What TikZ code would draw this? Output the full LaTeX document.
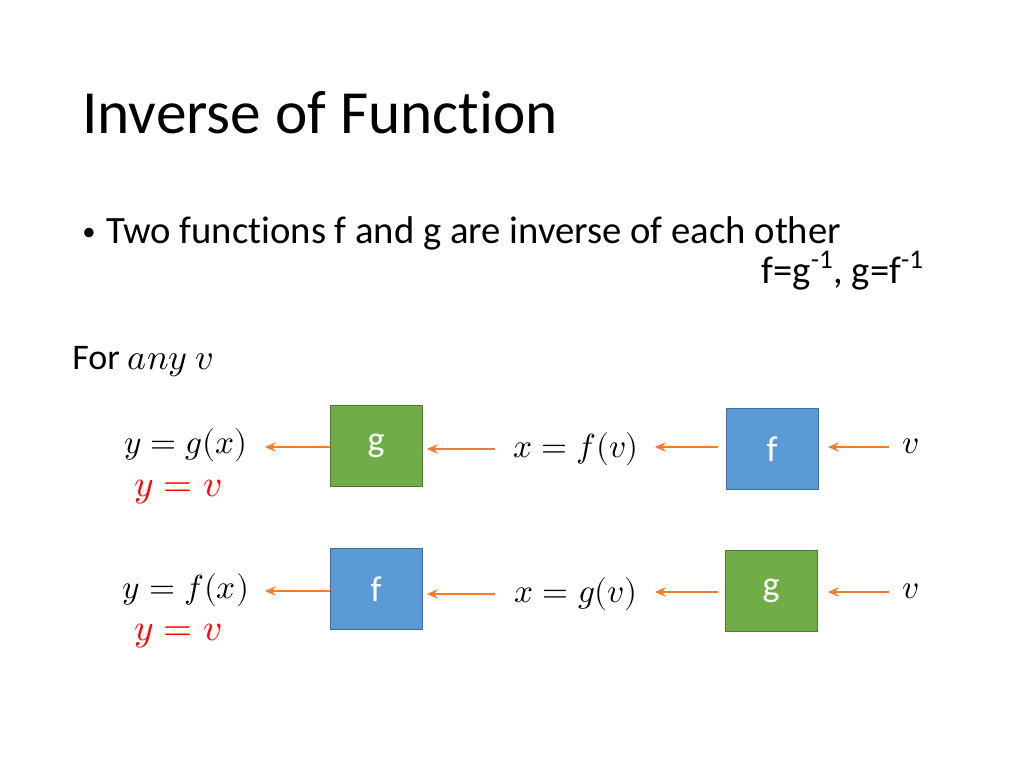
\documentclass[tikz,border=0pt]{standalone}
\usepackage{fontspec}
\setmainfont[Ligatures={NoCommon}]{Carlito}
\usepackage{unicode-math}
\setmathfont{Latin Modern Math}
\usetikzlibrary{arrows.meta}
\definecolor{gbox}{HTML}{70AD47}
\definecolor{bbox}{HTML}{5B9BD5}
\definecolor{orng}{HTML}{ED7D31}
\tikzset{
  fbox/.style={draw=#1!70!black, fill=#1, minimum width=69pt, minimum height=61pt, text=white, font=\fontsize{27}{30}\selectfont, inner sep=0pt},
  arr/.style={draw=orng, line width=2pt, -{Stealth[length=8pt,width=7pt]}},
  mt/.style={font=\fontsize{25}{30}\selectfont, inner sep=0pt},
}
\begin{document}
\begin{tikzpicture}[x=0.75pt,y=-0.75pt]
\useasboundingbox (0,0) rectangle (1024,768);
\node[anchor=base west, inner sep=0pt, font=\fontsize{46}{50}\selectfont] (title) at (82,133) {Inverse of Function};
\node[anchor=base west, inner sep=0pt, font=\fontsize{29}{34}\selectfont] (bul) at (82,243) {{\fontsize{20}{20}\selectfont\raisebox{2pt}{•}}\hspace{8pt}Two functions f and g are inverse of each other};
\node[anchor=base east, inner sep=0pt, font=\fontsize{29}{34}\selectfont] (inv) at (924,283) {f=g\textsuperscript{-1}, g=f\textsuperscript{-1}};
\node[anchor=base west, inner sep=0pt, font=\fontsize{27}{30}\selectfont] (for) at (72,369) {For $any\ v$};
% row 1
\node[fbox=gbox] (g1) at (376,446) {g};
\node[fbox=bbox] (f1) at (772,449) {f};
\node[mt] (y1) at (186,445) {$y=g(x)$};
\node[mt, text=red, font=\fontsize{28}{32}\selectfont] (yv1) at (178,492) {$y=v$};
\node[mt] (x1) at (576,449) {$x=f(v)$};
\node[mt] (v1) at (911,446) {$v$};
\coordinate (a1) at (889,447); \coordinate (a1e) at (828,447);
\draw[arr] (a1) -- (a1e);
\draw[arr] (718,447) -- (655,447);
\draw[arr] (495,449) -- (427,449);
\draw[arr] (g1.west |- 0,447) -- (265,447);
% row 2
\node[fbox=bbox] (f2) at (376,589) {f};
\node[fbox=gbox] (g2) at (771,591) {g};
\node[mt] (y2) at (186,590) {$y=f(x)$};
\node[mt, text=red, font=\fontsize{28}{32}\selectfont] (yv2) at (178,636) {$y=v$};
\node[mt] (x2) at (576,594) {$x=g(v)$};
\node[mt] (v2) at (911,591) {$v$};
\draw[arr] (889,592) -- (828,592);
\draw[arr] (718,592) -- (655,592);
\draw[arr] (495,594) -- (427,594);
\draw[arr] (f2.west |- 0,591) -- (265,591);
\end{tikzpicture}
\end{document}
